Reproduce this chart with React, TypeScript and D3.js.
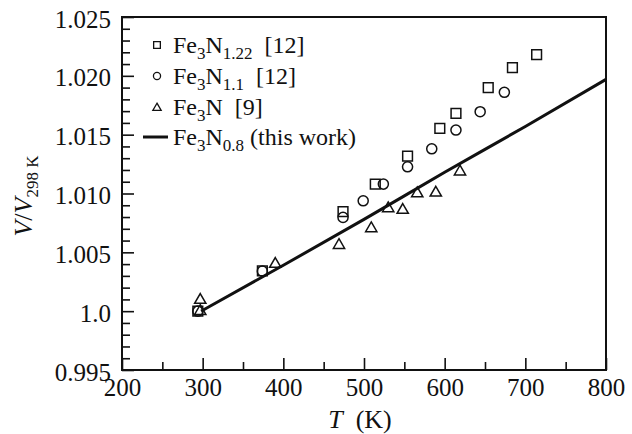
import React, { useRef, useEffect } from "react"
import * as d3 from "d3"

// Fe3N1.22 [12]
const sqT = [294, 374, 474, 514, 554, 594, 614, 654, 684, 714]
const sqV = [1.0, 1.00343, 1.00845, 1.0108, 1.01318, 1.01553, 1.0168, 1.019, 1.0207, 1.0218]
// Fe3N1.1 [12]
const ciT = [294, 374, 474, 499, 524, 554, 584, 614, 644, 674]
const ciV = [1.0, 1.0034, 1.00797, 1.00938, 1.0108, 1.01227, 1.0138, 1.01539, 1.01695, 1.0186]
// Fe3N [9]
const trT = [297, 297, 390, 469, 509, 530, 548, 566, 589, 619]
const trV = [1.00094, 1.0, 1.004, 1.00561, 1.00703, 1.00873, 1.00859, 1.01, 1.01006, 1.01185]
// Fe3N0.8 (this work)
const lnT = [298, 400, 500, 600, 700, 800]
const lnV = [1.0, 1.0039, 1.0078, 1.0118, 1.0157, 1.0197]

const xTicks = [200, 300, 400, 500, 600, 700, 800]
const yTicks = [0.995, 1.0, 1.005, 1.01, 1.015, 1.02, 1.025]
const yTickLabels = ["0.995", "1.0", "1.005", "1.010", "1.015", "1.020", "1.025"]

const FONT = "'Liberation Serif', 'Times New Roman', Tinos, 'DejaVu Serif', serif"
const INK = "#111"

const App = () => {
    let element = useRef(null)

    useEffect(() => {
        let margin = { top: 17, right: 26, bottom: 64, left: 122 },
            width = 632 - margin.left - margin.right,
            height = 434 - margin.top - margin.bottom

        let svg = d3.select(element.current)
        svg.selectAll("*").remove()

        let g = svg.append("g")
            .attr("transform", "translate(" + margin.left + "," + margin.top + ")")

        let x = d3.scaleLinear().domain([200, 800]).range([0, width])
        let y = d3.scaleLinear().domain([0.995, 1.025]).range([height, 0])

        // minor ticks
        g.append("g")
            .attr("transform", "translate(0," + height + ")")
            .call(d3.axisBottom(x).tickValues(d3.range(250, 800, 100)).tickSize(-8).tickFormat(() => ""))
            .call(a => a.select(".domain").remove())
        g.append("g")
            .call(d3.axisLeft(y).tickValues(d3.range(0, 31).map(i => 0.995 + i * 0.001).filter((d, i) => i % 5 !== 0)).tickSize(-8).tickFormat(() => ""))
            .call(a => a.select(".domain").remove())

        // major ticks
        g.append("g")
            .attr("transform", "translate(0," + height + ")")
            .call(d3.axisBottom(x).tickValues(xTicks).tickSize(-12).tickPadding(8).tickFormat(d3.format("d")))
            .call(a => a.select(".domain").remove())
            .selectAll("text").attr("font-size", 25)
        g.append("g")
            .call(d3.axisLeft(y).tickValues(yTicks).tickSize(-12).tickPadding(11)
                .tickFormat((d, i) => yTickLabels[i]))
            .call(a => a.select(".domain").remove())
            .selectAll("text").attr("font-size", 25).attr("dy", "0.4em")

        g.selectAll(".tick line").attr("stroke", INK).attr("stroke-width", 1.6)
        g.selectAll(".tick text").attr("fill", INK).style("font-family", FONT)

        // frame
        g.append("rect")
            .attr("width", width).attr("height", height)
            .attr("fill", "none").attr("stroke", INK).attr("stroke-width", 2)

        // line
        let line = d3.line().x(d => x(d[0])).y(d => y(d[1])).curve(d3.curveMonotoneX)
        g.append("path")
            .datum(lnT.map((t, i) => [t, lnV[i]]))
            .attr("d", line)
            .attr("fill", "none").attr("stroke", INK).attr("stroke-width", 3)

        let sym = (type, size) => d3.symbol().type(type).size(size)()

        const addPts = (ts, vs, type, size) => {
            g.append("g").selectAll("path")
                .data(ts.map((t, i) => [t, vs[i]]))
                .enter().append("path")
                .attr("d", sym(type, size))
                .attr("transform", d => "translate(" + x(d[0]) + "," + y(d[1]) + ")")
                .attr("fill", "none").attr("stroke", INK).attr("stroke-width", 1.5)
        }
        addPts(sqT, sqV, d3.symbolSquare, 95)
        addPts(ciT, ciV, d3.symbolCircle, 80)
        addPts(trT, trV, d3.symbolTriangle, 55)

        // legend
        let leg = svg.append("g").style("font-family", FONT).attr("fill", INK)
        const rows = [
            { y: 45, type: d3.symbolSquare, size: 45, sub1: "3", sub2: "1.22", tail: "  [12]" },
            { y: 76, type: d3.symbolCircle, size: 40, sub1: "3", sub2: "1.1", tail: "  [12]" },
            { y: 107, type: d3.symbolTriangle, size: 30, sub1: "3", sub2: "", tail: "  [9]" },
            { y: 137, type: null, size: 0, sub1: "3", sub2: "0.8", tail: " (this work)" },
        ]
        rows.forEach(r => {
            if (r.type) {
                leg.append("path")
                    .attr("d", sym(r.type, r.size))
                    .attr("transform", "translate(157," + (r.type === d3.symbolTriangle ? r.y + 1 : r.y) + ")")
                    .attr("fill", "none").attr("stroke", INK).attr("stroke-width", 1.3)
            } else {
                leg.append("line")
                    .attr("x1", 143).attr("x2", 168).attr("y1", r.y).attr("y2", r.y)
                    .attr("stroke", INK).attr("stroke-width", 3)
            }
            let t = leg.append("text")
                .attr("x", 173).attr("y", r.y + 7.5)
                .attr("font-size", 24)
                .style("white-space", "pre")
            t.append("tspan").text("Fe")
            t.append("tspan").attr("font-size", 17).attr("dy", 6).text(r.sub1)
            t.append("tspan").attr("dy", -6).text("N")
            if (r.sub2) {
                t.append("tspan").attr("font-size", 17).attr("dy", 6).text(r.sub2)
                t.append("tspan").attr("dy", -6).text(r.tail)
            } else {
                t.append("tspan").text(r.tail)
            }
        })

        // axis titles
        let xt = svg.append("text")
            .attr("x", 360).attr("y", 428)
            .attr("text-anchor", "middle")
            .style("font-family", FONT).attr("font-size", 26).attr("fill", INK)
            .style("white-space", "pre")
        xt.append("tspan").attr("font-style", "italic").text("T")
        xt.append("tspan").text("  (K)")

        let yt = svg.append("text")
            .attr("transform", "translate(32,196) rotate(-90)")
            .attr("text-anchor", "middle")
            .style("font-family", FONT).attr("font-size", 26).attr("fill", INK)
        yt.append("tspan").attr("font-style", "italic").text("V")
        yt.append("tspan").text("/")
        yt.append("tspan").attr("font-style", "italic").text("V")
        yt.append("tspan").attr("font-size", 17).attr("dy", 6).text("298 K")
    }, [])

    return (
        <svg ref={element} width={632} height={434}
            style={{ position: "absolute", left: 0, top: 0, background: "#fff" }} />
    )
}

export default App
